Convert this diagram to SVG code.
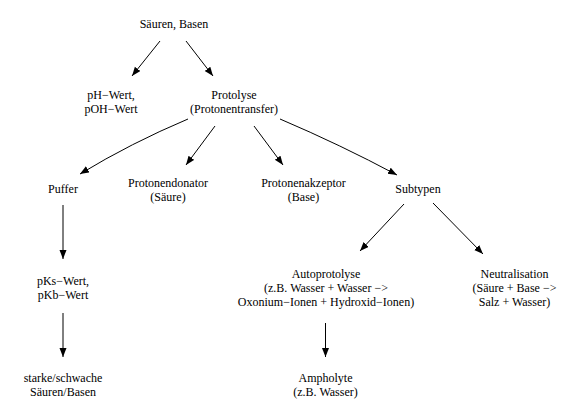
<svg xmlns="http://www.w3.org/2000/svg" width="585" height="417" viewBox="0 0 585 417">
<style>
text{font-family:"Liberation Serif","Times New Roman",serif;font-size:12px;fill:#000;text-anchor:middle}
.c{fill:none;stroke:#000;stroke-width:1;marker-end:url(#ah)}
</style>
<defs>
<marker id="ah" markerUnits="userSpaceOnUse" markerWidth="10" markerHeight="8" refX="9" refY="3.5" orient="auto">
<path d="M0,0 L9,3.5 L0,7 z" fill="#000"/>
</marker>
</defs>
<rect width="585" height="417" fill="#fff"/>
<g id="connectors">
<path class="c" d="M160,41 L132,76"/>
<path class="c" d="M186,41 L213,76"/>
<path class="c" d="M188,119 Q131,143 80,174"/>
<path class="c" d="M215,126 L186,165"/>
<path class="c" d="M254,126 L283,165"/>
<path class="c" d="M280,119 Q341,145 397,175"/>
<path class="c" d="M404,204 L360,251"/>
<path class="c" d="M433,203 L483,254"/>
<path class="c" d="M63,205 L63,259"/>
<path class="c" d="M63,313 L63,357"/>
<path class="c" d="M325.5,323 L325.5,357"/>
</g>
<g id="n-saeuren"><text x="174" y="28">Säuren, Basen</text></g>
<g id="n-ph"><text x="111" y="99">pH−Wert,</text><text x="111" y="113">pOH−Wert</text></g>
<g id="n-protolyse"><text x="234" y="99">Protolyse</text><text x="234" y="113">(Protonentransfer)</text></g>
<g id="n-puffer"><text x="63" y="193">Puffer</text></g>
<g id="n-donator"><text x="168" y="187">Protonendonator</text><text x="168" y="201">(Säure)</text></g>
<g id="n-akzeptor"><text x="303.5" y="187">Protonenakzeptor</text><text x="303.5" y="201">(Base)</text></g>
<g id="n-subtypen"><text x="418" y="193">Subtypen</text></g>
<g id="n-pks"><text x="63" y="285">pKs−Wert,</text><text x="63" y="299">pKb−Wert</text></g>
<g id="n-auto"><text x="326" y="278">Autoprotolyse</text><text x="326" y="292">(z.B. Wasser + Wasser −&gt;</text><text x="326" y="306">Oxonium−Ionen + Hydroxid−Ionen)</text></g>
<g id="n-neutral"><text x="514.5" y="278">Neutralisation</text><text x="514.5" y="292">(Säure + Base −&gt;</text><text x="514.5" y="306">Salz + Wasser)</text></g>
<g id="n-starke"><text x="63" y="382">starke/schwache</text><text x="63" y="396">Säuren/Basen</text></g>
<g id="n-ampholyte"><text x="325.5" y="382">Ampholyte</text><text x="325.5" y="396">(z.B. Wasser)</text></g>
</svg>
